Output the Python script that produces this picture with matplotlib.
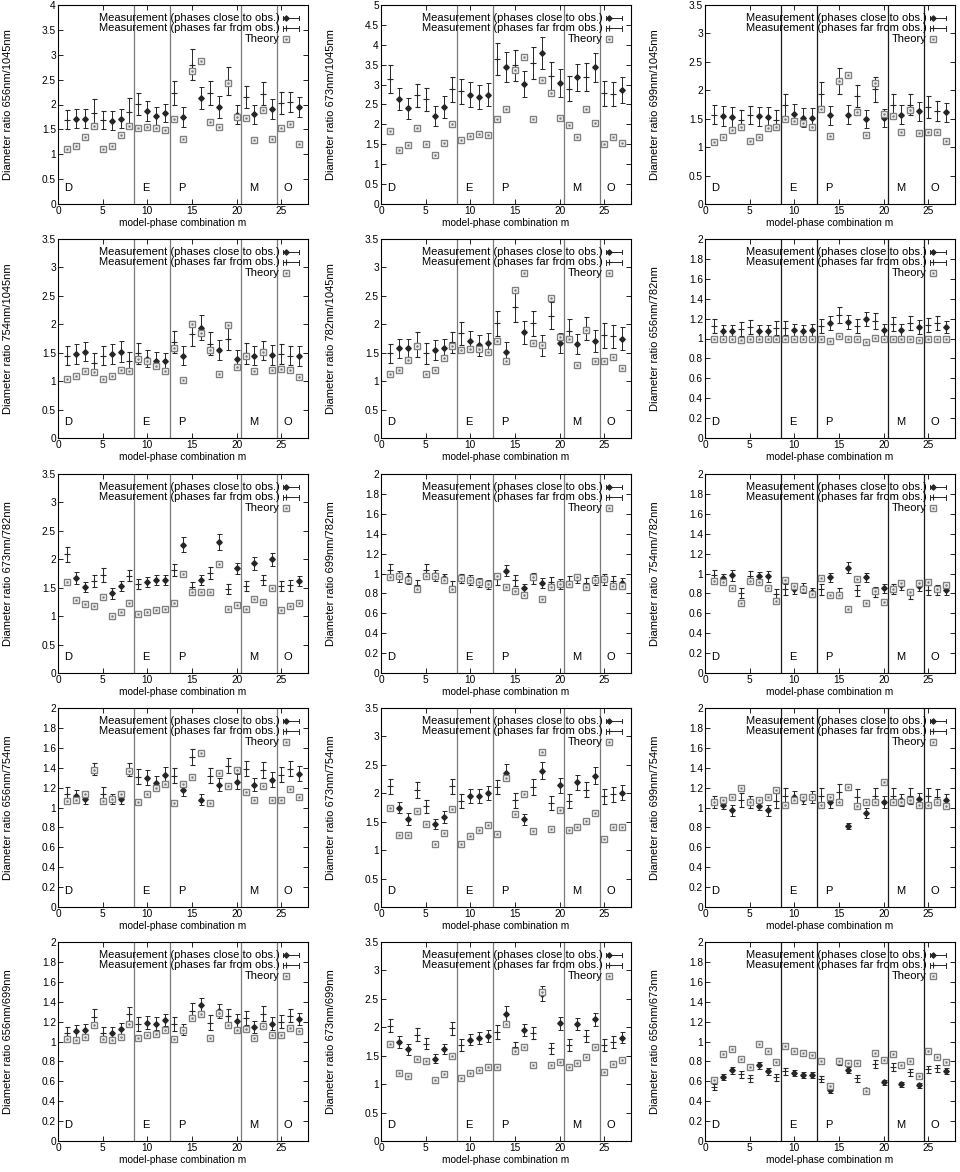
import numpy as np
import matplotlib
matplotlib.use('Agg')
import matplotlib.pyplot as plt

plt.rcParams['font.family'] = ['Liberation Sans', 'DejaVu Sans']

# model-phase combinations, and those whose phase is close to the observation
m = np.arange(1, 28)
close_m = [2, 3, 6, 7, 10, 11, 12, 14, 16, 18, 20, 22, 24, 27]

groups = ['D', 'E', 'P', 'M', 'O']
group_x = [0.7, 9.4, 13.4, 21.4, 25.3]
borders = [8.5, 12.5, 20.5, 24.5]

# row 1
r656_1045 = [1.69, 1.71, 1.71, 1.83, 1.69, 1.67, 1.71, 1.85, 2.01, 1.87, 1.77, 1.83, 2.24, 1.74, 2.80, 2.13, 2.24, 1.95, 2.47, 1.79, 2.15, 1.80, 2.22, 1.91, 2.03, 2.05, 1.95]
e656_1045 = [0.19, 0.19, 0.19, 0.28, 0.18, 0.19, 0.19, 0.29, 0.23, 0.21, 0.18, 0.19, 0.24, 0.20, 0.31, 0.23, 0.24, 0.22, 0.28, 0.19, 0.23, 0.20, 0.23, 0.21, 0.23, 0.21, 0.21]
t656_1045 = [1.10, 1.17, 1.35, 1.57, 1.11, 1.17, 1.39, 1.57, 1.52, 1.55, 1.53, 1.49, 1.71, 1.30, 2.67, 2.87, 1.65, 1.55, 2.44, 1.75, 1.72, 1.29, 1.89, 1.31, 1.53, 1.61, 1.21]

r673_1045 = [3.13, 2.63, 2.40, 2.73, 2.63, 2.21, 2.44, 2.88, 2.83, 2.75, 2.69, 2.75, 3.65, 3.44, 3.48, 3.01, 3.55, 3.79, 3.22, 3.04, 2.90, 3.19, 3.19, 3.43, 2.78, 2.76, 2.86]
e673_1045 = [0.35, 0.28, 0.27, 0.29, 0.29, 0.24, 0.27, 0.32, 0.32, 0.31, 0.30, 0.30, 0.40, 0.38, 0.38, 0.33, 0.40, 0.41, 0.36, 0.34, 0.32, 0.34, 0.35, 0.36, 0.31, 0.31, 0.33]
t673_1045 = [1.83, 1.36, 1.47, 1.92, 1.51, 1.22, 1.53, 2.00, 1.61, 1.72, 1.75, 1.73, 2.13, 2.38, 3.36, 3.69, 2.13, 3.11, 2.79, 2.15, 1.98, 1.69, 2.38, 2.03, 1.51, 1.69, 1.53]

r699_1045 = [1.57, 1.55, 1.53, 1.48, 1.57, 1.54, 1.53, 1.48, 1.74, 1.59, 1.52, 1.51, 1.93, 1.56, 2.16, 1.57, 1.90, 1.50, 2.02, 1.51, 1.74, 1.57, 1.75, 1.63, 1.71, 1.64, 1.61]
e699_1045 = [0.17, 0.18, 0.17, 0.17, 0.16, 0.17, 0.17, 0.17, 0.19, 0.17, 0.16, 0.17, 0.21, 0.17, 0.23, 0.17, 0.20, 0.16, 0.22, 0.16, 0.19, 0.17, 0.19, 0.17, 0.19, 0.18, 0.17]
t699_1045 = [1.09, 1.17, 1.30, 1.36, 1.10, 1.17, 1.33, 1.36, 1.49, 1.46, 1.43, 1.36, 1.67, 1.20, 2.16, 2.27, 1.61, 1.22, 2.12, 1.59, 1.55, 1.26, 1.65, 1.24, 1.27, 1.26, 1.11]

# row 2
r754_1045 = [1.45, 1.48, 1.52, 1.32, 1.45, 1.48, 1.52, 1.35, 1.49, 1.39, 1.36, 1.35, 1.69, 1.45, 1.83, 1.94, 1.66, 1.55, 1.75, 1.39, 1.49, 1.45, 1.54, 1.46, 1.48, 1.45, 1.44]
e754_1045 = [0.17, 0.17, 0.17, 0.17, 0.17, 0.17, 0.18, 0.17, 0.18, 0.15, 0.15, 0.15, 0.19, 0.16, 0.22, 0.22, 0.20, 0.17, 0.20, 0.15, 0.18, 0.16, 0.17, 0.17, 0.17, 0.17, 0.17]
t754_1045 = [1.04, 1.09, 1.17, 1.16, 1.04, 1.09, 1.19, 1.17, 1.39, 1.35, 1.26, 1.18, 1.59, 1.02, 2.01, 1.84, 1.54, 1.12, 1.98, 1.24, 1.44, 1.17, 1.52, 1.20, 1.22, 1.19, 1.08]

r782_1045 = [1.49, 1.58, 1.58, 1.64, 1.49, 1.55, 1.58, 1.68, 1.84, 1.70, 1.63, 1.67, 2.02, 1.51, 2.30, 1.86, 2.02, 1.63, 2.15, 1.67, 1.89, 1.65, 1.92, 1.71, 1.81, 1.79, 1.75]
e782_1045 = [0.17, 0.17, 0.17, 0.22, 0.18, 0.17, 0.17, 0.19, 0.20, 0.19, 0.18, 0.18, 0.22, 0.18, 0.26, 0.20, 0.22, 0.18, 0.24, 0.18, 0.21, 0.18, 0.20, 0.19, 0.22, 0.20, 0.20]
t782_1045 = [1.13, 1.19, 1.37, 1.61, 1.13, 1.19, 1.40, 1.61, 1.54, 1.57, 1.57, 1.52, 1.70, 1.36, 2.61, 2.90, 1.67, 1.64, 2.46, 1.78, 1.74, 1.29, 1.90, 1.35, 1.36, 1.42, 1.23]

r656_782 = [1.13, 1.08, 1.08, 1.10, 1.12, 1.08, 1.08, 1.11, 1.11, 1.09, 1.08, 1.09, 1.13, 1.16, 1.24, 1.17, 1.13, 1.20, 1.18, 1.09, 1.15, 1.09, 1.16, 1.12, 1.14, 1.16, 1.12]
e656_782 = [0.07, 0.06, 0.06, 0.07, 0.07, 0.06, 0.06, 0.07, 0.07, 0.06, 0.06, 0.06, 0.07, 0.07, 0.08, 0.07, 0.07, 0.07, 0.08, 0.06, 0.07, 0.06, 0.07, 0.07, 0.07, 0.07, 0.06]
t656_782 = [0.99, 1.00, 0.99, 0.98, 1.00, 1.00, 0.99, 0.99, 1.00, 0.99, 0.99, 0.99, 1.00, 0.97, 1.03, 1.00, 1.00, 0.96, 1.01, 0.99, 1.00, 0.99, 1.00, 0.98, 1.00, 1.00, 0.99]

# row 3
r673_782 = [2.09, 1.67, 1.51, 1.62, 1.72, 1.40, 1.53, 1.71, 1.56, 1.60, 1.64, 1.64, 1.81, 2.26, 1.51, 1.63, 1.76, 2.30, 1.48, 1.84, 1.53, 1.93, 1.64, 2.00, 1.53, 1.54, 1.62]
e673_782 = [0.13, 0.10, 0.09, 0.10, 0.12, 0.09, 0.09, 0.10, 0.09, 0.09, 0.09, 0.09, 0.10, 0.13, 0.09, 0.09, 0.11, 0.14, 0.09, 0.10, 0.09, 0.11, 0.09, 0.11, 0.09, 0.09, 0.09]
t673_782 = [1.60, 1.29, 1.22, 1.18, 1.33, 1.00, 1.07, 1.23, 1.03, 1.07, 1.10, 1.13, 1.23, 1.75, 1.43, 1.43, 1.43, 1.91, 1.13, 1.20, 1.13, 1.30, 1.24, 1.50, 1.10, 1.17, 1.23]

r699_782 = [1.04, 0.97, 0.95, 0.88, 1.04, 0.98, 0.95, 0.87, 0.95, 0.93, 0.91, 0.89, 0.94, 1.03, 0.93, 0.85, 0.95, 0.90, 0.91, 0.89, 0.92, 0.95, 0.90, 0.93, 0.94, 0.92, 0.90]
e699_782 = [0.057, 0.053, 0.055, 0.052, 0.053, 0.058, 0.05, 0.05, 0.05, 0.05, 0.048, 0.047, 0.057, 0.055, 0.058, 0.048, 0.057, 0.05, 0.058, 0.05, 0.053, 0.05, 0.053, 0.05, 0.057, 0.053, 0.05]
t699_782 = [0.96, 0.97, 0.93, 0.84, 0.97, 0.97, 0.93, 0.84, 0.95, 0.93, 0.91, 0.89, 0.97, 0.86, 0.82, 0.78, 0.96, 0.74, 0.86, 0.89, 0.89, 0.96, 0.86, 0.93, 0.94, 0.87, 0.87]

r754_782 = [0.98, 0.95, 0.98, 0.80, 0.97, 0.97, 0.97, 0.79, 0.84, 0.84, 0.85, 0.81, 0.84, 0.96, 0.80, 1.06, 0.83, 0.96, 0.81, 0.85, 0.84, 0.88, 0.79, 0.87, 0.83, 0.83, 0.83]
e754_782 = [0.053, 0.05, 0.053, 0.05, 0.055, 0.05, 0.055, 0.053, 0.053, 0.05, 0.05, 0.047, 0.053, 0.05, 0.05, 0.057, 0.055, 0.05, 0.05, 0.048, 0.05, 0.05, 0.05, 0.048, 0.05, 0.05, 0.05]
t754_782 = [0.92, 0.91, 0.85, 0.70, 0.92, 0.91, 0.85, 0.72, 0.93, 0.87, 0.84, 0.79, 0.95, 0.78, 0.78, 0.64, 0.94, 0.70, 0.82, 0.71, 0.84, 0.90, 0.81, 0.90, 0.91, 0.84, 0.88]

# row 4
r656_754 = [1.14, 1.12, 1.09, 1.39, 1.14, 1.09, 1.09, 1.38, 1.31, 1.30, 1.25, 1.33, 1.32, 1.18, 1.51, 1.08, 1.32, 1.23, 1.42, 1.26, 1.39, 1.23, 1.38, 1.28, 1.33, 1.39, 1.34]
e656_754 = [0.064, 0.056, 0.054, 0.059, 0.067, 0.05, 0.05, 0.067, 0.076, 0.072, 0.069, 0.076, 0.072, 0.062, 0.081, 0.059, 0.076, 0.067, 0.076, 0.074, 0.074, 0.067, 0.079, 0.072, 0.076, 0.074, 0.074]
t656_754 = [1.07, 1.08, 1.14, 1.38, 1.07, 1.09, 1.14, 1.37, 1.06, 1.14, 1.20, 1.24, 1.05, 1.24, 1.31, 1.55, 1.05, 1.35, 1.22, 1.38, 1.16, 1.08, 1.22, 1.08, 1.08, 1.19, 1.11]

r673_754 = [2.12, 1.75, 1.55, 2.06, 1.77, 1.46, 1.58, 2.12, 1.86, 1.95, 1.95, 2.01, 2.11, 2.36, 1.88, 1.54, 2.11, 2.40, 1.83, 2.14, 1.87, 2.19, 2.06, 2.31, 1.95, 1.98, 2.01]
e673_754 = [0.14, 0.10, 0.10, 0.14, 0.12, 0.09, 0.10, 0.14, 0.12, 0.12, 0.12, 0.12, 0.13, 0.15, 0.13, 0.10, 0.14, 0.15, 0.12, 0.13, 0.12, 0.13, 0.13, 0.15, 0.13, 0.13, 0.13]
t673_754 = [1.75, 1.27, 1.27, 1.68, 1.46, 1.10, 1.30, 1.73, 1.10, 1.25, 1.35, 1.45, 1.29, 2.27, 1.64, 1.98, 1.33, 2.72, 1.38, 1.70, 1.35, 1.40, 1.52, 1.65, 1.19, 1.40, 1.40]

r699_754 = [1.06, 1.03, 0.97, 1.08, 1.06, 1.02, 0.97, 1.07, 1.12, 1.11, 1.09, 1.11, 1.12, 1.06, 1.16, 0.81, 1.11, 0.94, 1.12, 1.06, 1.12, 1.08, 1.12, 1.09, 1.12, 1.11, 1.08]
e699_754 = [0.06, 0.05, 0.06, 0.07, 0.06, 0.05, 0.06, 0.08, 0.08, 0.06, 0.05, 0.06, 0.08, 0.06, 0.08, 0.03, 0.08, 0.05, 0.08, 0.06, 0.08, 0.06, 0.08, 0.06, 0.08, 0.08, 0.06]
t699_754 = [1.06, 1.08, 1.11, 1.20, 1.06, 1.08, 1.11, 1.18, 1.03, 1.08, 1.11, 1.11, 1.03, 1.11, 1.06, 1.21, 1.02, 1.06, 1.06, 1.26, 1.06, 1.06, 1.08, 1.03, 1.03, 1.06, 1.02]

# row 5
r656_699 = [1.09, 1.11, 1.12, 1.25, 1.09, 1.09, 1.13, 1.28, 1.18, 1.19, 1.18, 1.22, 1.18, 1.12, 1.31, 1.37, 1.19, 1.31, 1.26, 1.21, 1.24, 1.15, 1.28, 1.18, 1.20, 1.26, 1.23]
e656_699 = [0.06, 0.06, 0.06, 0.08, 0.06, 0.06, 0.06, 0.07, 0.07, 0.065, 0.065, 0.06, 0.07, 0.055, 0.075, 0.07, 0.075, 0.07, 0.07, 0.065, 0.07, 0.06, 0.075, 0.065, 0.065, 0.065, 0.06]
t656_699 = [1.03, 1.02, 1.05, 1.17, 1.03, 1.02, 1.05, 1.18, 1.04, 1.07, 1.08, 1.12, 1.03, 1.12, 1.24, 1.28, 1.04, 1.29, 1.17, 1.12, 1.13, 1.04, 1.16, 1.07, 1.07, 1.14, 1.11]

r673_699 = [2.03, 1.74, 1.61, 1.87, 1.71, 1.45, 1.62, 1.98, 1.69, 1.78, 1.81, 1.85, 1.92, 2.24, 1.65, 1.95, 1.90, 2.59, 1.63, 2.07, 1.69, 2.06, 1.85, 2.14, 1.69, 1.74, 1.82]
e673_699 = [0.11, 0.10, 0.09, 0.11, 0.10, 0.08, 0.09, 0.12, 0.10, 0.10, 0.10, 0.11, 0.12, 0.14, 0.10, 0.11, 0.11, 0.13, 0.10, 0.11, 0.10, 0.11, 0.11, 0.12, 0.10, 0.10, 0.10]
t673_699 = [1.71, 1.19, 1.15, 1.44, 1.41, 1.07, 1.18, 1.50, 1.11, 1.19, 1.25, 1.31, 1.31, 2.06, 1.58, 1.66, 1.34, 2.62, 1.34, 1.39, 1.31, 1.38, 1.47, 1.66, 1.21, 1.36, 1.42]

r656_673 = [0.54, 0.64, 0.71, 0.67, 0.63, 0.76, 0.70, 0.64, 0.70, 0.68, 0.66, 0.66, 0.62, 0.51, 0.80, 0.71, 0.63, 0.51, 0.77, 0.59, 0.74, 0.57, 0.69, 0.56, 0.72, 0.73, 0.70]
e656_673 = [0.03, 0.03, 0.035, 0.035, 0.035, 0.035, 0.035, 0.035, 0.035, 0.03, 0.03, 0.03, 0.03, 0.025, 0.035, 0.03, 0.035, 0.025, 0.04, 0.025, 0.04, 0.025, 0.035, 0.025, 0.035, 0.035, 0.03]
t656_673 = [0.61, 0.87, 0.92, 0.82, 0.74, 0.97, 0.90, 0.79, 0.95, 0.90, 0.88, 0.86, 0.80, 0.55, 0.80, 0.78, 0.78, 0.50, 0.88, 0.81, 0.87, 0.76, 0.80, 0.65, 0.90, 0.84, 0.79]

panels = [
    ('656nm/1045nm', r656_1045, e656_1045, t656_1045, 4.0, 0.5),
    ('673nm/1045nm', r673_1045, e673_1045, t673_1045, 5.0, 0.5),
    ('699nm/1045nm', r699_1045, e699_1045, t699_1045, 3.5, 0.5),
    ('754nm/1045nm', r754_1045, e754_1045, t754_1045, 3.5, 0.5),
    ('782nm/1045nm', r782_1045, e782_1045, t782_1045, 3.5, 0.5),
    ('656nm/782nm', r656_782, e656_782, t656_782, 2.0, 0.2),
    ('673nm/782nm', r673_782, e673_782, t673_782, 3.5, 0.5),
    ('699nm/782nm', r699_782, e699_782, t699_782, 2.0, 0.2),
    ('754nm/782nm', r754_782, e754_782, t754_782, 2.0, 0.2),
    ('656nm/754nm', r656_754, e656_754, t656_754, 2.0, 0.2),
    ('673nm/754nm', r673_754, e673_754, t673_754, 3.5, 0.5),
    ('699nm/754nm', r699_754, e699_754, t699_754, 2.0, 0.2),
    ('656nm/699nm', r656_699, e656_699, t656_699, 2.0, 0.2),
    ('673nm/699nm', r673_699, e673_699, t673_699, 3.5, 0.5),
    ('656nm/673nm', r656_673, e656_673, t656_673, 2.0, 0.2),
]

W, H = 960, 1172
fig = plt.figure(figsize=(W / 100, H / 100), dpi=100)

lefts = [58, 381, 705]
pw, ph = 250, 199
tops = [5, 239, 474, 708, 942]

dark = '#262626'
gray = '#808080'
fs = 7.3
fs_key = 8

is_close = np.isin(m, close_m)

for i, (name, r, e, t, ymax, ystep) in enumerate(panels):
    row, col = divmod(i, 3)
    ax = fig.add_axes([lefts[col] / W, 1 - (tops[row] + ph) / H, pw / W, ph / H])
    r = np.array(r)
    e = np.array(e)
    t = np.array(t)

    line_col = '#7a7a7a' if col < 2 else '#1a1a1a'
    for b in borders:
        ax.axvline(b, color=line_col, lw=0.9, zorder=1)

    ax.errorbar(m[is_close], r[is_close], yerr=e[is_close], fmt='D', ms=2.8,
                color=dark, ecolor=dark, elinewidth=0.7, capsize=1.8, capthick=0.7, zorder=3)
    ax.errorbar(m[~is_close], r[~is_close], yerr=e[~is_close], fmt='+', ms=4, mew=0.8,
                color=dark, ecolor=dark, elinewidth=0.7, capsize=1.8, capthick=0.7, zorder=3)
    ax.plot(m, t, 's', ms=4.3, mfc='white', mec=gray, mew=1.0, zorder=4)
    ax.plot(m, t, 's', ms=0.8, color=gray, zorder=5)

    for g, gx in zip(groups, group_x):
        ax.text(gx, 0.08, g, transform=ax.get_xaxis_transform(), fontsize=8,
                ha='left', va='center', color='black')

    # key in the upper right corner
    key_y = [0.935, 0.882, 0.829]
    key_txt = ['Measurement (phases close to obs.)',
               'Measurement (phases far from obs.)', 'Theory']
    for ky, kt in zip(key_y, key_txt):
        ax.text(0.888, ky, kt, transform=ax.transAxes, fontsize=fs_key, ha='right', va='center')
    for ky, mk, ms in [(key_y[0], 'D', 2.8), (key_y[1], '+', 4)]:
        ax.plot([0.9, 0.964], [ky, ky], color=dark, lw=0.7, transform=ax.transAxes, clip_on=False)
        for xe in (0.9, 0.964):
            ax.plot([xe, xe], [ky - 0.012, ky + 0.012], color=dark, lw=0.7,
                    transform=ax.transAxes, clip_on=False)
        ax.plot([0.913], [ky], mk, ms=ms, mew=0.8, color=dark, transform=ax.transAxes)
    ax.plot([0.913], [key_y[2]], 's', ms=4.3, mfc='white', mec=gray, mew=1.0,
            transform=ax.transAxes)
    ax.plot([0.913], [key_y[2]], 's', ms=0.8, color=gray, transform=ax.transAxes)

    ax.set_xlim(0, 28)
    ax.set_ylim(0, ymax)
    ax.set_xticks(np.arange(0, 26, 5))
    ax.set_yticks(np.arange(0, ymax + 1e-9, ystep))
    ax.yaxis.set_major_formatter(plt.FormatStrFormatter('%g'))
    ax.tick_params(direction='in', top=True, right=True, length=3.5, width=0.6,
                   labelsize=fs, pad=1.5)
    for sp in ax.spines.values():
        sp.set_linewidth(0.8)

    ax.set_xlabel('model-phase combination m', fontsize=fs)
    ax.xaxis.set_label_coords(0.5, -0.068)
    ax.set_ylabel('Diameter ratio ' + name, fontsize=8)
    ax.yaxis.set_label_coords(-0.178, 0.5)

fig.savefig('out.png', dpi=100)
